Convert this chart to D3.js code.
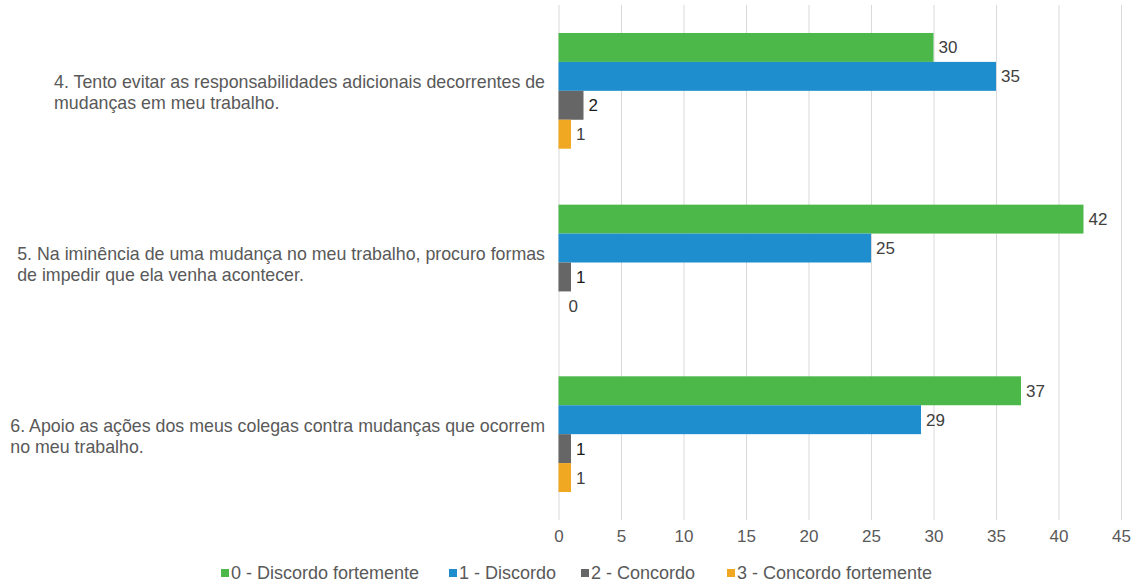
<!DOCTYPE html>
<html>
<head>
<meta charset="utf-8">
<script src="https://cdn.jsdelivr.net/npm/d3@7"></script>
<style>
body { margin: 0; background: #fff; }
svg { font-family: "Liberation Sans", Arial, sans-serif; }
</style>
</head>
<body>
<svg id="chart" width="1138" height="588"></svg>
<script>
var categories = [
    ['4. Tento evitar as responsabilidades adicionais decorrentes de', 'mudanças em meu trabalho.'],
    ['5. Na iminência de uma mudança no meu trabalho, procuro formas', 'de impedir que ela venha acontecer.'],
    ['6. Apoio as ações dos meus colegas contra mudanças que ocorrem', 'no meu trabalho.']
];
var seriesNames = ['0 - Discordo fortemente', '1 - Discordo', '2 - Concordo', '3 - Concordo fortemente'];
var discordoFortemente = [30, 42, 37];
var discordo = [35, 25, 29];
var concordo = [2, 1, 1];
var concordoFortemente = [1, 0, 1];
var xTicks = [0, 5, 10, 15, 20, 25, 30, 35, 40, 45];

var colors = ['#4cb84a', '#1f8ecf', '#666666', '#f0a722'];
var labelColors = ['#404040', '#404040', '#1a1a1a', '#404040'];
var values = [discordoFortemente, discordo, concordo, concordoFortemente];

var svg = d3.select('#chart');
var plotLeft = 558.5, plotRight = 1121, plotTop = 5, plotBottom = 520;

var x = d3.scaleLinear().domain([0, 45]).range([plotLeft, plotRight]);
var y0 = d3.scaleBand().domain(d3.range(categories.length)).range([plotTop, plotBottom]).paddingInner(0.326).paddingOuter(0.163);
var y1 = d3.scaleBand().domain(d3.range(seriesNames.length)).range([0, y0.bandwidth()]);

// grid
svg.append('g').selectAll('line')
    .data(xTicks)
    .enter().append('line')
        .attr('x1', function(d) { return x(d) + 0.5; })
        .attr('x2', function(d) { return x(d) + 0.5; })
        .attr('y1', plotTop)
        .attr('y2', plotBottom)
        .attr('stroke', '#d9d9d9')
        .attr('stroke-width', 1);

// axis labels
var axis = svg.append('g')
    .attr('transform', 'translate(0,' + plotBottom + ')')
    .call(d3.axisBottom(x).tickValues(xTicks).tickSize(0).tickPadding(10));
axis.select('.domain').remove();
axis.selectAll('text')
    .attr('fill', '#595959')
    .style('font-size', '17px')
    .style('font-family', '"Liberation Sans", Arial, sans-serif');

// bars
var groups = svg.append('g').selectAll('g')
    .data(categories)
    .enter().append('g')
        .attr('transform', function(d, i) { return 'translate(0,' + y0(i) + ')'; });

groups.each(function(c, ci) {
    var g = d3.select(this);
    var rows = values.map(function(v, si) { return {s: si, v: v[ci]}; });
    g.selectAll('rect')
        .data(rows)
        .enter().append('rect')
            .attr('x', x(0))
            .attr('y', function(d) { return y1(d.s); })
            .attr('width', function(d) { return x(d.v) - x(0); })
            .attr('height', y1.bandwidth())
            .attr('fill', function(d) { return colors[d.s]; });
    g.selectAll('text.val')
        .data(rows)
        .enter().append('text')
            .attr('class', 'val')
            .attr('x', function(d) { return x(d.v) + (d.v === 0 ? 10 : 5); })
            .attr('y', function(d) { return y1(d.s) + y1.bandwidth() / 2; })
            .attr('dy', '0.35em')
            .attr('fill', function(d) { return labelColors[d.s]; })
            .style('font-size', '17px')
            .text(function(d) { return d.v; });
});

// category labels
var labelRight = 545;
groups.each(function(c) {
    var g = d3.select(this);
    var t = g.append('text')
        .attr('fill', '#595959')
        .style('font-size', '17.8px');
    var mid = y0.bandwidth() / 2;
    c.forEach(function(line, li) {
        t.append('tspan')
            .attr('y', mid - 2.5 + li * 21)
            .text(line);
    });
    var w = 0;
    t.selectAll('tspan').each(function() { w = Math.max(w, this.getComputedTextLength()); });
    t.selectAll('tspan').attr('x', labelRight - w);
});

// legend
var legendX = [221, 449, 581, 727];
var legend = svg.append('g').selectAll('g')
    .data(seriesNames)
    .enter().append('g')
        .attr('transform', function(d, i) { return 'translate(' + legendX[i] + ',573)'; });
legend.append('rect')
    .attr('x', 0).attr('y', -4).attr('width', 8).attr('height', 8)
    .attr('fill', function(d, i) { return colors[i]; });
legend.append('text')
    .attr('x', 10)
    .attr('dy', '0.35em')
    .attr('fill', '#595959')
    .style('font-size', '18px')
    .text(function(d) { return d; });
</script>
</body>
</html>
